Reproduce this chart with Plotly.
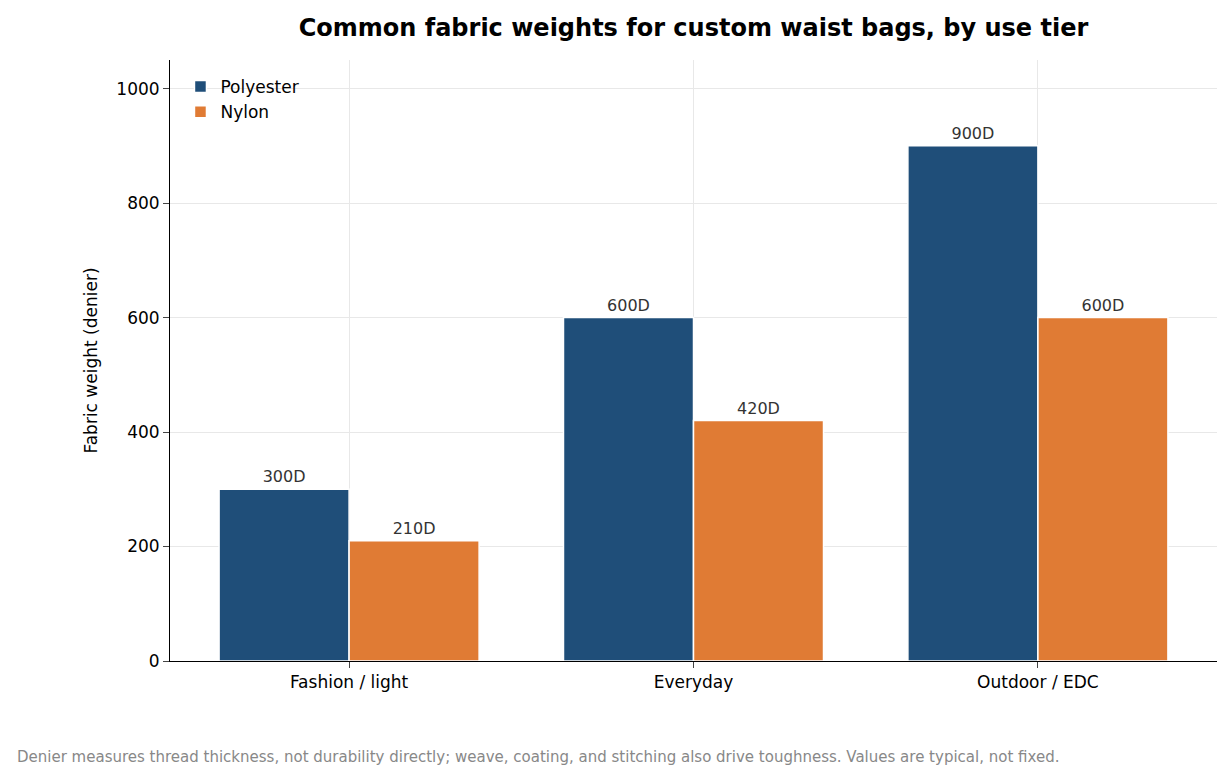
import plotly.graph_objects as go

categories = ["Fashion / light", "Everyday", "Outdoor / EDC"]
polyester = [300, 600, 900]
nylon = [210, 420, 600]

fig = go.Figure()
for name, vals, col in [("Polyester", polyester, "#1f4e79"), ("Nylon", nylon, "#e07b34")]:
    fig.add_trace(go.Bar(
        x=categories, y=vals, name=name, marker_color=col,
        marker_line=dict(color="white", width=1.5),
        text=[f"{v}D" for v in vals], textposition="outside",
        textfont=dict(size=16, color="#333333"), cliponaxis=False,
    ))

fig.update_layout(
    width=1215, height=765, barmode="group", bargap=0.245, bargroupgap=0,
    plot_bgcolor="white", paper_bgcolor="white",
    font=dict(family="DejaVu Sans", size=17, color="black"),
    margin=dict(l=162, r=6, t=52, b=112),
    title=dict(text="<b>Common fabric weights for custom waist bags, by use tier</b>",
               xref="paper", x=0.5, xanchor="center", y=0.975, yanchor="middle", font=dict(size=24)),
    legend=dict(x=0.01, y=0.985, xanchor="left", yanchor="top", bgcolor="rgba(0,0,0,0)",
                font=dict(size=17)),
    xaxis=dict(range=[-0.52, 2.52], showline=True, linecolor="black", ticks="outside",
               ticklen=6, showgrid=True, gridcolor="#e8e8e8", tickfont=dict(size=17)),
    yaxis=dict(range=[0, 1050], showline=True, linecolor="black", ticks="outside",
               ticklen=6, gridcolor="#e8e8e8", dtick=200, zeroline=False,
               title=dict(text="Fabric weight (denier)", font=dict(size=17), standoff=14),
               tickfont=dict(size=17)),
    annotations=[dict(text="Denier measures thread thickness, not durability directly; weave, coating, and stitching also drive toughness. Values are typical, not fixed.",
                      xref="paper", yref="paper", x=-0.148, y=-0.16, xanchor="left", yanchor="middle",
                      showarrow=False, font=dict(size=15, color="#888888"))],
)
fig.write_html("out.html")
